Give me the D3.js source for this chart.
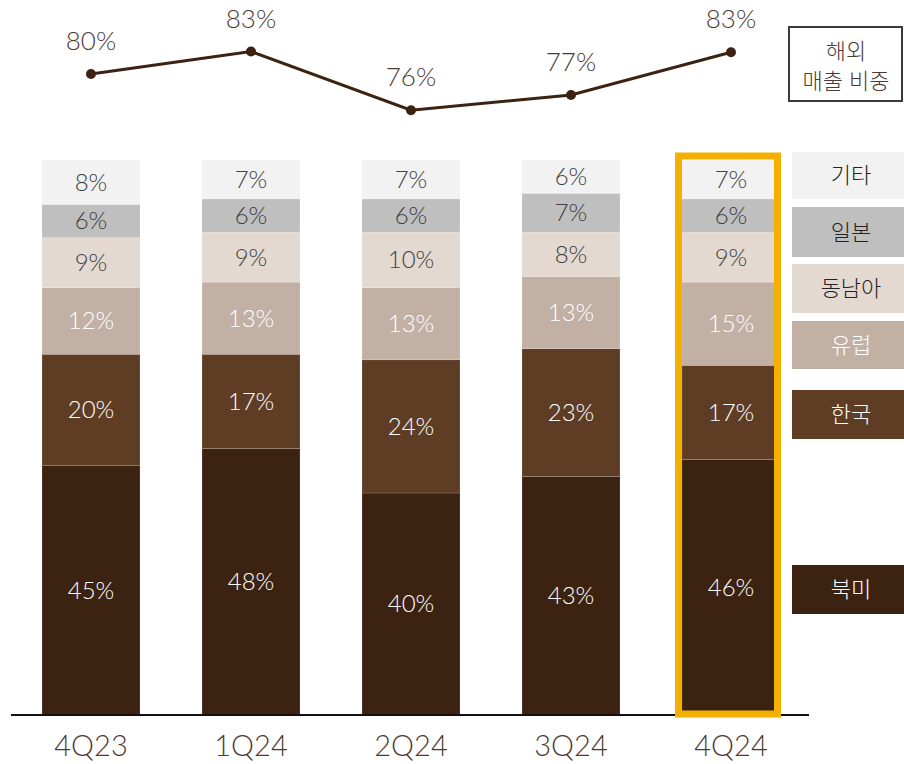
<!DOCTYPE html>
<html>
<head>
<meta charset="utf-8">
<script src="https://cdn.jsdelivr.net/npm/d3@7"></script>
<style>
  body { margin: 0; background: #fff; }
  text { font-family: Lato, "Noto Sans CJK KR", "Noto Sans", sans-serif; font-weight: 300; }
</style>
</head>
<body>
<div id="chart"></div>
<script>
var quarters = ["4Q23", "1Q24", "2Q24", "3Q24", "4Q24"];
var regions = ["북미", "한국", "유럽", "동남아", "일본", "기타"];

var northAmerica = [45, 48, 40, 43, 46];
var korea        = [20, 17, 24, 23, 17];
var europe       = [12, 13, 13, 13, 15];
var seAsia       = [9, 9, 10, 8, 9];
var japan        = [6, 6, 6, 7, 6];
var other        = [8, 7, 7, 6, 7];

// overseas share: where the points sit, and the printed labels
var overseasShare  = [80, 83.1, 75, 77.1, 83];
var overseasLabels = ["80%", "83%", "76%", "77%", "83%"];

var fills = {"북미": "#3b2211", "한국": "#5e3d24", "유럽": "#c2b0a5", "동남아": "#e3d9d1", "일본": "#bfbfbf", "기타": "#f2f2f2"};
var labelColor = {"북미": "#fff", "한국": "#fff", "유럽": "#fff", "동남아": "#404040", "일본": "#404040", "기타": "#404040"};

var rows = quarters.map(function(q, i) {
  return {quarter: q, "북미": northAmerica[i], "한국": korea[i], "유럽": europe[i],
          "동남아": seAsia[i], "일본": japan[i], "기타": other[i]};
});

var svg = d3.select("#chart").append("svg")
  .attr("width", 904)
  .attr("height", 764);

var x = d3.scaleBand()
  .domain(quarters)
  .range([11, 811])
  .paddingInner(0.3875)
  .paddingOuter(0.19375);

var y = d3.scaleLinear().domain([0, 100]).range([715, 160]);
var yLine = d3.scaleLinear().domain([70, 85]).range([146.5, 37.75]);

var stacked = d3.stack().keys(regions)(rows);

// stacked bars
var layer = svg.selectAll(".layer")
  .data(stacked)
  .enter().append("g")
  .attr("class", "layer")
  .attr("fill", function(d) { return fills[d.key]; });

layer.selectAll("rect")
  .data(function(d) { return d; })
  .enter().append("rect")
  .attr("x", function(d) { return x(d.data.quarter); })
  .attr("y", function(d) { return y(d[1]); })
  .attr("width", x.bandwidth())
  .attr("height", function(d) { return y(d[0]) - y(d[1]); })
  .attr("stroke", "rgba(255,255,255,0.25)")
  .attr("stroke-width", 0.6);

layer.selectAll("text")
  .data(function(d) { return d.map(function(p) { p.key = d.key; return p; }); })
  .enter().append("text")
  .attr("x", function(d) { return x(d.data.quarter) + x.bandwidth() / 2; })
  .attr("y", function(d) { return (y(d[0]) + y(d[1])) / 2; })
  .attr("dy", "0.35em")
  .attr("text-anchor", "middle")
  .attr("font-size", 24)
  .attr("fill", function(d) { return labelColor[d.key]; })
  .text(function(d) { return (d[1] - d[0]) + "%"; });

// axis line
svg.append("line")
  .attr("x1", 11).attr("x2", 809)
  .attr("y1", 715).attr("y2", 715)
  .attr("stroke", "#111")
  .attr("stroke-width", 2);

var xAxis = svg.append("g")
  .attr("transform", "translate(0,715)")
  .call(d3.axisBottom(x).tickSize(0).tickPadding(20));
xAxis.select(".domain").remove();
xAxis.selectAll("text")
  .attr("font-size", 29)
  .attr("fill", "#4d3a35")
  .style("font-family", "Lato, \"Noto Sans\", sans-serif")
  .style("font-weight", 300);

// highlight on latest quarter
var last = quarters[quarters.length - 1];
svg.append("rect")
  .attr("x", x(last) - 3.5)
  .attr("y", 156)
  .attr("width", x.bandwidth() + 1)
  .attr("height", 558)
  .attr("fill", "none")
  .attr("stroke", "#f4b000")
  .attr("stroke-width", 7);

// overseas share line
var cx = function(i) { return x(quarters[i]) + x.bandwidth() / 2; };

svg.append("path")
  .datum(overseasShare)
  .attr("fill", "none")
  .attr("stroke", "#3b2211")
  .attr("stroke-width", 3)
  .attr("d", d3.line()
    .x(function(d, i) { return cx(i); })
    .y(function(d) { return yLine(d); }));

svg.selectAll(".dot")
  .data(overseasShare)
  .enter().append("circle")
  .attr("class", "dot")
  .attr("cx", function(d, i) { return cx(i); })
  .attr("cy", function(d) { return yLine(d); })
  .attr("r", 5)
  .attr("fill", "#3b2211");

svg.selectAll(".share-label")
  .data(overseasShare)
  .enter().append("text")
  .attr("class", "share-label")
  .attr("x", function(d, i) { return cx(i); })
  .attr("y", function(d) { return yLine(d) - 24; })
  .attr("text-anchor", "middle")
  .attr("font-size", 26)
  .attr("fill", "#4d3a35")
  .text(function(d, i) { return overseasLabels[i]; });

// legend for the line
svg.append("rect")
  .attr("x", 789).attr("y", 27)
  .attr("width", 113).attr("height", 74)
  .attr("fill", "#fff")
  .attr("stroke", "#3a3a3a")
  .attr("stroke-width", 2);

svg.append("text")
  .attr("x", 846).attr("y", 59)
  .attr("text-anchor", "middle")
  .attr("font-size", 22)
  .attr("fill", "#4d3a35")
  .text("해외");
svg.append("text")
  .attr("x", 846).attr("y", 89)
  .attr("text-anchor", "middle")
  .attr("font-size", 22)
  .attr("fill", "#4d3a35")
  .text("매출 비중");

// region legend
var legendBoxes = {"기타": [152, 199], "일본": [207, 257], "동남아": [264, 313],
                   "유럽": [321, 369], "한국": [390, 439], "북미": [565, 614]};
var legendText = {"북미": "#fff", "한국": "#fff", "유럽": "#fff", "동남아": "#222", "일본": "#222", "기타": "#222"};

var legend = svg.selectAll(".legend")
  .data(regions)
  .enter().append("g")
  .attr("class", "legend");

legend.append("rect")
  .attr("x", 792)
  .attr("y", function(d) { return legendBoxes[d][0]; })
  .attr("width", 112)
  .attr("height", function(d) { return legendBoxes[d][1] - legendBoxes[d][0]; })
  .attr("fill", function(d) { return fills[d]; });

legend.append("text")
  .attr("x", 851)
  .attr("y", function(d) { return (legendBoxes[d][0] + legendBoxes[d][1]) / 2; })
  .attr("dy", "0.35em")
  .attr("text-anchor", "middle")
  .attr("font-size", 22)
  .attr("fill", function(d) { return legendText[d]; })
  .text(function(d) { return d; });
</script>
</body>
</html>
